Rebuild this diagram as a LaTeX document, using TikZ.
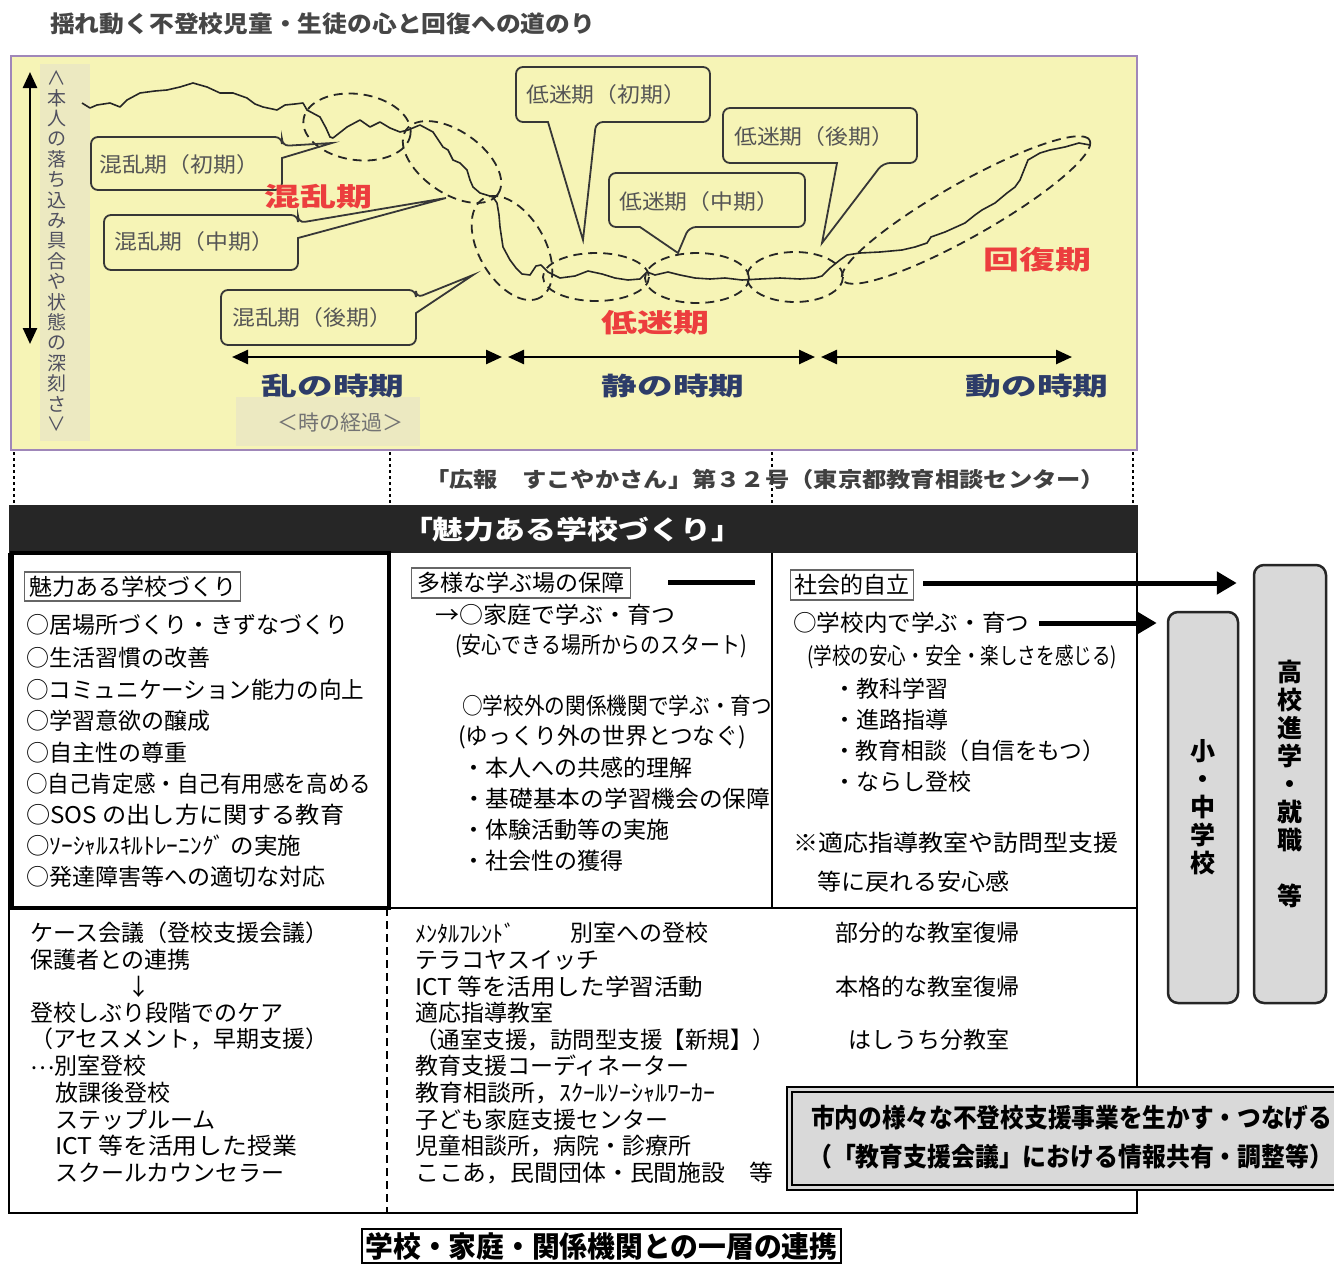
\documentclass[tikz,border=0pt]{standalone}
\usepackage{fontspec}
\usepackage{graphicx}
\setmainfont{Noto Sans CJK JP}
\usetikzlibrary{arrows.meta}
\definecolor{chartbg}{RGB}{246,244,182}
\definecolor{stripbg}{RGB}{236,233,193}
\definecolor{frameP}{RGB}{160,135,185}
\definecolor{navyc}{RGB}{45,60,105}
\definecolor{redlbl}{RGB}{236,62,62}
\definecolor{calltext}{RGB}{85,85,85}
\definecolor{callline}{RGB}{55,55,55}
\definecolor{boxgray}{RGB}{217,217,217}
\definecolor{barblack}{RGB}{38,38,38}
\definecolor{titlegray}{RGB}{70,70,70}
\definecolor{vtext}{RGB}{80,80,95}
\newcommand\fitw[2]{\resizebox{#1pt}{\height}{#2}}
\newcommand\fsz[1]{\fontsize{#1}{#1}\selectfont}
\tikzset{
  bodytxt/.style={anchor=west, inner sep=0pt, font=\fsz{23}, text=black},
  callout/.style={draw=callline, line width=1.8pt, rounded corners=7pt},
  ctext/.style={anchor=west, inner sep=0pt, font=\fsz{21}, text=calltext},
  dashell/.style={draw=black!85, line width=1.8pt, dash pattern=on 9pt off 6pt},
  redl/.style={inner sep=0pt, font=\bfseries\fsz{26}, text=redlbl},
  navyl/.style={inner sep=0pt, font=\bfseries\fsz{25}, text=navyc},
  tarrow/.style={line width=2.5pt, {Triangle[length=16pt,width=14pt]}-{Triangle[length=16pt,width=14pt]}},
  headbox/.style={draw=black!60, line width=1.2pt, inner sep=0pt, anchor=west, font=\fsz{23}},
  fatarrow/.style={line width=5pt, -{Triangle[length=20pt,width=22pt]}},
  vbox/.style={draw=black!85, line width=2.5pt, rounded corners=10pt, fill=boxgray, inner sep=0pt, align=center, font=\bfseries\fontsize{25}{28}\selectfont},
}
\begin{document}
\begin{tikzpicture}[x=1pt,y=-1pt]
\useasboundingbox (0,0) rectangle (1334,1269);
\clip (0,0) rectangle (1334,1269);
\fill[white] (0,0) rectangle (1334,1269);

% ---------- title ----------
\node[anchor=west,inner sep=0pt,text=titlegray,font=\bfseries\fsz{23}] (title) at (50,24) {\fitw{545}{揺れ動く不登校児童・生徒の心と回復への道のり}};

% ---------- chart ----------
\draw[fill=chartbg, draw=frameP, line width=2.5pt] (11,56) rectangle (1137,450);
\fill[stripbg] (40,64) rectangle (90,441);
\fill[stripbg] (236,397) rectangle (420,446);

\node[inner sep=0pt, align=center, text=vtext, font=\fontsize{19}{20.4}\selectfont] (vlabel) at (57,251)
 {\rotatebox[origin=c]{-90}{＜}\\本\\人\\の\\落\\ち\\込\\み\\具\\合\\や\\状\\態\\の\\深\\刻\\さ\\\rotatebox[origin=c]{-90}{＞}};
\coordinate (vtop) at (30,72);
\coordinate (vbot) at (30,344);
\draw[tarrow] (vtop) -- (vbot);

% curve
\draw[line width=1.6pt, line join=round, black!85] plot coordinates {
(82,103) (90,108) (97,105) (110,103) (120,107) (127,100) (140,93) (155,91) (167,90) (180,87) (193,83) (207,87) (220,93) (233,93) (247,98) (255,104) (263,107) (277,110) (285,105) (295,104) (303,103) (307,110) (320,117) (326,128) (330,137) (333,138) (347,127) (360,120) (370,127) (380,122) (390,128) (400,132) (408,130) (420,125) (433,132) (443,147) (448,150) (453,160) (460,163) (467,170) (470,180) (473,187) (480,193) (493,197) (497,203) (499,215) (500,227) (503,247) (510,260) (516,268) (522,274) (530,275) (536,266) (541,265) (548,272) (560,278) (575,276) (588,271) (602,274) (615,278) (628,280) (640,279) (647,272) (655,275) (668,272) (680,275) (695,278) (710,279) (725,278) (742,280) (760,279) (780,278) (800,279) (815,278) (822,276) (830,268) (840,260) (847,255) (860,253) (880,252) (902,250) (915,247) (927,243) (931,237) (945,232) (965,223) (975,215) (982,210) (995,203) (1007,193) (1015,187) (1020,180) (1024,170) (1028,160) (1040,153) (1050,150) (1065,147) (1079,143) (1090,145)};

% dashed ellipses
\draw[dashell, rotate around={-8:(357,127)}] (357,127) ellipse [x radius=54, y radius=33];
\draw[dashell, rotate around={-35:(452,162)}] (452,162) ellipse [x radius=56, y radius=31];
\draw[dashell, rotate around={-60:(512,248)}] (512,248) ellipse [x radius=57, y radius=33];
\draw[dashell] (596,277) ellipse [x radius=53, y radius=24];
\draw[dashell] (697,278) ellipse [x radius=52, y radius=25];
\draw[dashell] (795,277) ellipse [x radius=48, y radius=25];
\draw[dashell, rotate around={29.5:(966,210)}] (966,210) ellipse [x radius=142, y radius=27];

% callouts
\draw[callout] (91,163) -- (91,137) -- (282,137) -- (282,146) [sharp corners] -- (332,143) -- (282,158) [rounded corners=7pt] -- (282,190) -- (91,190) -- cycle;
\draw[callout] (104,242) -- (104,215) -- (298,215) -- (298,223) [sharp corners] -- (446,198) -- (298,238) [rounded corners=7pt] -- (298,270) -- (104,270) -- cycle;
\draw[callout] (221,318) -- (221,290) -- (416,290) -- (416,298) [sharp corners] -- (473,275) -- (416,313) [rounded corners=7pt] -- (416,345) -- (221,345) -- cycle;
\draw[callout] (516,95) -- (516,67) -- (710,67) -- (710,122) -- (596,122) [sharp corners] -- (583,240) -- (548,122) [rounded corners=7pt] -- (516,122) -- cycle;
\draw[callout] (609,200) -- (609,173) -- (805,173) -- (805,227) -- (689,227) [sharp corners] -- (678,253) -- (640,227) [rounded corners=7pt] -- (609,227) -- cycle;
\draw[callout] (723,135) -- (723,108) -- (917,108) -- (917,163) -- (883,163) [sharp corners] -- (822,243) -- (837,163) [rounded corners=7pt] -- (723,163) -- cycle;

\node[ctext] (c1) at (99,165) {\fitw{160}{混乱期（初期）}};
\node[ctext] (c2) at (114,242) {\fitw{160}{混乱期（中期）}};
\node[ctext] (c3) at (232,318) {\fitw{160}{混乱期（後期）}};
\node[ctext] (c4) at (526,95) {\fitw{160}{低迷期（初期）}};
\node[ctext] (c5) at (619,202) {\fitw{160}{低迷期（中期）}};
\node[ctext] (c6) at (734,137) {\fitw{160}{低迷期（後期）}};

\node[redl] (r1) at (318,197) {\fitw{108}{混乱期}};
\node[redl] (r2) at (655,323) {\fitw{108}{低迷期}};
\node[redl] (r3) at (1037,260) {\fitw{108}{回復期}};

% time arrows
\coordinate (t1a) at (232,357); \coordinate (t1b) at (502,357);
\coordinate (t2a) at (508,357); \coordinate (t2b) at (815,357);
\coordinate (t3a) at (821,357); \coordinate (t3b) at (1072,357);
\draw[tarrow] (t1a) -- (t1b);
\draw[tarrow] (t2a) -- (t2b);
\draw[tarrow] (t3a) -- (t3b);
\node[navyl] (n1) at (333,386) {\fitw{143}{乱の時期}};
\node[navyl] (n2) at (673,386) {\fitw{143}{静の時期}};
\node[navyl] (n3) at (1037,386) {\fitw{143}{動の時期}};
\node[inner sep=0pt, text=black!55, font=\fsz{21}] (keika) at (340,423) {＜時の経過＞};

% ---------- citation ----------
\foreach \xx in {14,390,772,1133} \draw[line width=2pt, dash pattern=on 3pt off 3pt] (\xx,452) -- (\xx,505);
\node[anchor=west,inner sep=0pt,text=black!75,font=\bfseries\fsz{21}] (cite) at (425,479) {\fitw{680}{「広報　すこやかさん」第３２号（東京都教育相談センター）}};

% ---------- main frame ----------
\fill[barblack] (9,505) rectangle (1138,553);
\node[inner sep=0pt, text=white, font=\bfseries\fsz{26}] (bar) at (572,530) {\fitw{340}{「魅力ある学校づくり」}};
\draw[line width=2pt] (9,553) -- (9,1213) -- (1137,1213) -- (1137,553);
\draw[line width=2pt] (389,908) -- (1137,908);
\draw[line width=2pt] (772,553) -- (772,908);
\draw[line width=2pt, dash pattern=on 8pt off 5pt] (387,908) -- (387,1213);
\draw[line width=4.5pt] (12,553) rectangle (389,908);

% left panel
\node[headbox, minimum width=216, minimum height=29] (h1) at (24,586.5) {魅力ある学校づくり};
\node[bodytxt] (l1) at (26,625) {○居場所づくり・きずなづくり};
\node[bodytxt] (l2) at (26,658) {○生活習慣の改善};
\node[bodytxt] (l3) at (26,690) {\fitw{338}{○コミュニケーション能力の向上}};
\node[bodytxt] (l4) at (26,721) {○学習意欲の醸成};
\node[bodytxt] (l5) at (26,753) {○自主性の尊重};
\node[bodytxt] (l6) at (26,784) {\fitw{345}{○自己肯定感・自己有用感を高める}};
\node[bodytxt] (l7) at (26,815) {\fitw{318}{○SOS の出し方に関する教育}};
\node[bodytxt] (l8) at (26,846) {\fitw{275}{○ｿｰｼｬﾙｽｷﾙﾄﾚｰﾆﾝｸﾞ の実施}};
\node[bodytxt] (l9) at (26,877) {○発達障害等への適切な対応};

% middle panel
\node[headbox, minimum width=219, minimum height=30] (h2) at (411,583) {多様な学ぶ場の保障};
\coordinate (ml1) at (668,582); \coordinate (ml2) at (755,582);
\draw[line width=5pt] (ml1) -- (ml2);
\node[bodytxt] (m1) at (435,615) {\fitw{240}{→○家庭で学ぶ・育つ}};
\node[bodytxt] (m2) at (455,646) {\fitw{292}{(安心できる場所からのスタート)}};
\node[bodytxt] (m3) at (462,706) {\fitw{310}{○学校外の関係機関で学ぶ・育つ}};
\node[bodytxt] (m4) at (458,737) {\fitw{288}{(ゆっくり外の世界とつなぐ)}};
\node[bodytxt] (m5) at (462,768) {・本人への共感的理解};
\node[bodytxt] (m6) at (462,799) {\fitw{308}{・基礎基本の学習機会の保障}};
\node[bodytxt] (m7) at (462,830) {・体験活動等の実施};
\node[bodytxt] (m8) at (462,861) {・社会性の獲得};

% right panel
\node[headbox, minimum width=123, minimum height=30] (h3) at (790,585) {社会的自立};
\node[bodytxt] (q1) at (793,623) {\fitw{236}{○学校内で学ぶ・育つ}};
\node[bodytxt] (q2) at (807,657) {\fitw{310}{(学校の安心・安全・楽しさを感じる)}};
\node[bodytxt] (q3) at (833,689) {・教科学習};
\node[bodytxt] (q4) at (833,720) {・進路指導};
\node[bodytxt] (q5) at (833,751) {\fitw{272}{・教育相談（自信をもつ）}};
\node[bodytxt] (q6) at (833,782) {・ならし登校};
\node[bodytxt] (q7) at (793,843) {\fitw{325}{※適応指導教室や訪問型支援}};
\node[bodytxt] (q8) at (817,882) {\fitw{192}{等に戻れる安心感}};

% side boxes
\node[vbox, minimum width=70, minimum height=391] (shochu) at (1203,807.5) {小\\・\\中\\学\\校};
\node[vbox, minimum width=72, minimum height=438] (koko) at (1290,784) {高\\校\\進\\学\\・\\就\\職\\[28pt]等};
\draw[fatarrow] ([xshift=9pt]h3.east |- 0,583) -- ([xshift=-16pt]koko.west |- 0,583);
\draw[fatarrow] ([xshift=10pt]q1.east) -- ([xshift=-10pt]shochu.west |- q1.east);

% ---------- lower section ----------
\node[bodytxt] (b1) at (30,933) {ケース会議（登校支援会議）};
\node[bodytxt] (b2) at (30,960) {保護者との連携};
\node[bodytxt] (b3) at (127,987) {↓};
\node[bodytxt] (b4) at (30,1013) {登校しぶり段階でのケア};
\node[bodytxt] (b5) at (30,1039) {（アセスメント，早期支援）};
\node[bodytxt] (b6) at (30,1066) {\raisebox{5pt}[0pt][0pt]{…}別室登校};
\node[bodytxt] (b7) at (55,1093) {放課後登校};
\node[bodytxt] (b8) at (55,1120) {ステップルーム};
\node[bodytxt] (b9) at (55,1146) {\fitw{242}{ICT 等を活用した授業}};
\node[bodytxt] (b10) at (55,1173) {スクールカウンセラー};

\node[bodytxt] (k1) at (415,933) {\fitw{100}{ﾒﾝﾀﾙﾌﾚﾝﾄﾞ}};
\node[bodytxt] (k1b) at (570,933) {別室への登校};
\node[bodytxt] (k2) at (415,960) {テラコヤスイッチ};
\node[bodytxt] (k3) at (415,987) {\fitw{288}{ICT 等を活用した学習活動}};
\node[bodytxt] (k4) at (415,1013) {適応指導教室};
\node[bodytxt] (k5) at (415,1040) {\fitw{360}{（通室支援，訪問型支援【新規】）}};
\node[bodytxt] (k6) at (415,1066) {教育支援コーディネーター};
\node[bodytxt] (k7) at (415,1093) {\fitw{300}{教育相談所，ｽｸｰﾙｿｰｼｬﾙﾜｰｶｰ}};
\node[bodytxt] (k8) at (415,1120) {子ども家庭支援センター};
\node[bodytxt] (k9) at (415,1146) {児童相談所，病院・診療所};
\node[bodytxt] (k10) at (415,1173) {\fitw{358}{ここあ，民間団体・民間施設　等}};

\node[bodytxt] (p1) at (835,933) {部分的な教室復帰};
\node[bodytxt] (p2) at (835,987) {本格的な教室復帰};
\node[bodytxt] (p3) at (848,1040) {はしうち分教室};

% gray support box
\draw[line width=2pt, fill=boxgray] (787,1087) rectangle (1345,1190);
\draw[line width=1.3pt] (792,1092) rectangle (1345,1185);
\node[anchor=west, inner sep=0pt, font=\bfseries\fsz{26}] (s1) at (811,1118) {\fitw{521}{市内の様々な不登校支援事業を生かす・つなげる}};
\node[anchor=west, inner sep=0pt, font=\bfseries\fsz{26}] (s2) at (808,1157) {\fitw{525}{（「教育支援会議」における情報共有・調整等）}};

% bottom title
\node[draw, line width=1.5pt, inner sep=0pt, minimum width=479, minimum height=34, font=\bfseries\fsz{29}] (foot) at (601.5,1246) {\fitw{472}{学校・家庭・関係機関との一層の連携}};
\end{tikzpicture}
\end{document}
